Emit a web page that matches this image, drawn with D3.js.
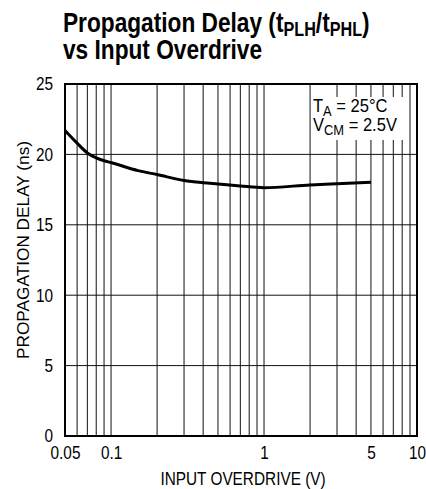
<!DOCTYPE html>
<html>
<head>
<meta charset="utf-8">
<script src="https://cdn.jsdelivr.net/npm/d3@7"></script>
<style>
  body { margin: 0; background: #fff; }
  svg text { font-family: "Liberation Sans", Arial, Helvetica, sans-serif; }
</style>
</head>
<body>
<div id="chart"></div>
<script>
// data
var overdrive = [0.05, 0.06, 0.07, 0.08, 0.09, 0.1, 0.15, 0.2, 0.3, 0.4, 0.5, 0.7, 1, 2, 3, 5];
var delay     = [21.7, 20.8, 20.1, 19.75, 19.55, 19.42, 18.85, 18.57, 18.15, 17.99, 17.9, 17.76, 17.64, 17.83, 17.92, 18.02];
var yTicks = [0, 5, 10, 15, 20, 25];
var xTickLabels = [0.05, 0.1, 1, 5, 10];
var xGrid = [0.06, 0.07, 0.08, 0.09, 0.1, 0.2, 0.3, 0.4, 0.5, 0.6, 0.7, 0.8, 0.9, 1, 2, 3, 4, 5, 6, 7, 8, 9];

var W = 426, H = 489;
var margin = {top: 84, left: 65},
    width = 352, height = 352;

// narrow font is not installed, so squeeze the text horizontally
var NARROW = 0.83;

var svg = d3.select("#chart").append("svg")
    .attr("width", W).attr("height", H);

// title (two lines in one text)
var title = svg.append("text")
    .attr("transform", "translate(63,32) scale(0.81,1)")
    .style("font-size", "28px").style("font-weight", "bold");
title.append("tspan").text("Propagation Delay (t");
title.append("tspan").text("PLH").style("font-size", "20px").attr("dy", 4);
title.append("tspan").text("/t").attr("dy", -4);
title.append("tspan").text("PHL").style("font-size", "20px").attr("dy", 4);
title.append("tspan").text(")").attr("dy", -4);
title.append("tspan").attr("x", 0).attr("dy", 27).text("vs Input Overdrive");

var g = svg.append("g")
    .attr("transform", "translate(" + margin.left + "," + margin.top + ")");

var x = d3.scaleLog().domain([0.05, 10]).range([0, width]);
var y = d3.scaleLinear().domain([0, 25]).range([height, 0]);

// grid
g.selectAll(".vgrid").data(xGrid).enter().append("line")
    .attr("x1", d => x(d)).attr("x2", d => x(d))
    .attr("y1", 0).attr("y2", height)
    .attr("stroke", "#111").attr("stroke-width", 1);
g.selectAll(".hgrid").data(yTicks).enter().append("line")
    .attr("x1", 0).attr("x2", width)
    .attr("y1", d => y(d)).attr("y2", d => y(d))
    .attr("stroke", "#111").attr("stroke-width", 1);

// frame
g.append("rect")
    .attr("width", width).attr("height", height)
    .attr("fill", "none").attr("stroke", "#000").attr("stroke-width", 2);

// tick labels
var yAxis = d3.axisLeft(y).tickValues(yTicks).tickSize(0).tickPadding(12);
g.append("g").call(yAxis)
    .call(s => s.select(".domain").remove())
    .selectAll("text")
    .style("font-size", "18.5px").style("font-family", "'Liberation Sans', Arial, sans-serif")
    .attr("fill", "#000")
    .attr("x", -12 / NARROW)
    .attr("transform", "scale(" + NARROW + ",1)");

var xAxis = d3.axisBottom(x).tickValues(xTickLabels).tickFormat(d3.format("")).tickSize(0).tickPadding(10);
g.append("g").attr("transform", "translate(0," + height + ")").call(xAxis)
    .call(s => s.select(".domain").remove())
    .selectAll("text")
    .style("font-size", "18.5px").style("font-family", "'Liberation Sans', Arial, sans-serif")
    .attr("fill", "#000")
    .attr("transform", "scale(" + NARROW + ",1)");

// curve
var line = d3.line()
    .x((d, i) => x(overdrive[i]))
    .y(d => y(d))
    .curve(d3.curveMonotoneX);
g.append("path").datum(delay)
    .attr("d", line)
    .attr("fill", "none").attr("stroke", "#000").attr("stroke-width", 3);

// condition box
svg.append("rect")
    .attr("x", 312).attr("y", 97).attr("width", 96).attr("height", 43)
    .attr("fill", "#fff");
var t1 = svg.append("text").attr("transform", "translate(313,112) scale(0.92,1)").style("font-size", "18px");
t1.append("tspan").text("T");
t1.append("tspan").text("A").style("font-size", "14px").attr("dy", 4);
t1.append("tspan").text(" = 25°C").attr("dy", -4);
var t2 = svg.append("text").attr("transform", "translate(313,131) scale(0.92,1)").style("font-size", "18px");
t2.append("tspan").text("V");
t2.append("tspan").text("CM").style("font-size", "14px").attr("dy", 4);
t2.append("tspan").text(" = 2.5V").attr("dy", -4);

// axis titles
svg.append("text")
    .attr("transform", "translate(243,485) scale(" + NARROW + ",1)")
    .attr("text-anchor", "middle")
    .style("font-size", "18.5px")
    .text("INPUT OVERDRIVE (V)");
svg.append("text")
    .attr("transform", "translate(28.5,250) rotate(-90)")
    .attr("text-anchor", "middle")
    .attr("textLength", 218)
    .attr("lengthAdjust", "spacingAndGlyphs")
    .style("font-size", "17px")
    .text("PROPAGATION DELAY (ns)");
</script>
</body>
</html>
